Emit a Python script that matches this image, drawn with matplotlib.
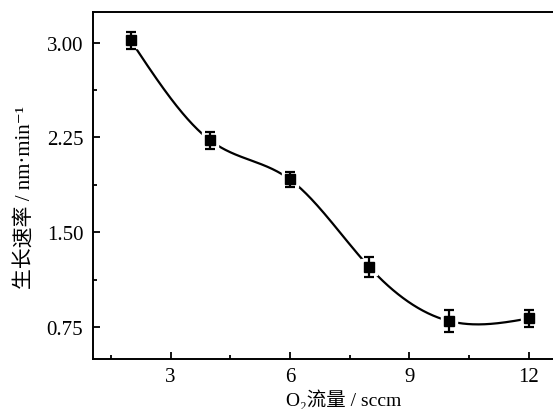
import numpy as np
import matplotlib
matplotlib.use('Agg')
from matplotlib import pyplot as plt
from matplotlib.ticker import MultipleLocator, FormatStrFormatter

plt.rcParams['font.family'] = ['Liberation Serif', 'DejaVu Serif', 'Noto Sans CJK SC']
plt.rcParams['font.size'] = 14

flow = np.array([2, 4, 6, 8, 10, 12])
rate = np.array([3.016, 2.226, 1.918, 1.224, 0.80, 0.82])
err = np.array([0.07, 0.07, 0.06, 0.08, 0.09, 0.065])


def natural_spline(x, y, xs):
    n = len(x)
    h = np.diff(x)
    A = np.zeros((n, n))
    b = np.zeros(n)
    A[0, 0] = A[-1, -1] = 1
    for i in range(1, n - 1):
        A[i, i - 1] = h[i - 1]
        A[i, i] = 2 * (h[i - 1] + h[i])
        A[i, i + 1] = h[i]
        b[i] = 6 * ((y[i + 1] - y[i]) / h[i] - (y[i] - y[i - 1]) / h[i - 1])
    M = np.linalg.solve(A, b)
    idx = np.clip(np.searchsorted(x, xs) - 1, 0, n - 2)
    x0, x1 = x[idx], x[idx + 1]
    hh = x1 - x0
    t0, t1 = x1 - xs, xs - x0
    return (M[idx] * t0**3 / (6 * hh) + M[idx + 1] * t1**3 / (6 * hh)
            + (y[idx] / hh - M[idx] * hh / 6) * t0
            + (y[idx + 1] / hh - M[idx + 1] * hh / 6) * t1)


xs = np.linspace(flow[0], flow[-1], 400)
ys = natural_spline(flow.astype(float), rate, xs)

fig = plt.figure(figsize=(5.53, 4.10), dpi=100)
ax = fig.add_axes([0.168, 0.122, 0.86, 0.846])

ax.plot(xs, ys, color='k', lw=1.6, zorder=1)
ax.plot(flow, rate, 's', ms=12, color='white', mec='white', zorder=2)
ax.errorbar(flow, rate, yerr=err, fmt='s', ms=7.5, color='k', ecolor='k',
            elinewidth=1.6, capsize=3.5, capthick=1.6, zorder=3)

ax.set_xlim(1.05, 13.0)
ax.set_ylim(0.5, 3.24)
ax.xaxis.set_major_locator(MultipleLocator(3))
ax.xaxis.set_minor_locator(MultipleLocator(1.5))
ax.yaxis.set_major_locator(MultipleLocator(0.75))
ax.yaxis.set_minor_locator(MultipleLocator(0.375))
ax.yaxis.set_major_formatter(FormatStrFormatter('%.2f'))
ax.tick_params(which='both', direction='in', width=1.3)
ax.tick_params(which='major', length=5, labelsize=15)
ax.tick_params(which='minor', length=3)
ax.tick_params(axis='x', pad=6)
ax.tick_params(axis='y', pad=7)
ax.spines['right'].set_visible(False)
for s in ['left', 'bottom', 'top']:
    ax.spines[s].set_linewidth(1.4)

ax.set_xlabel('O₂流量 / sccm', fontsize=14)
ax.set_ylabel('生长速率 / nm·min⁻¹', fontsize=15)
ax.xaxis.set_label_coords(0.527, -0.085)
ax.yaxis.set_label_coords(-0.122, 0.467)

fig.savefig('out.png', dpi=100)
